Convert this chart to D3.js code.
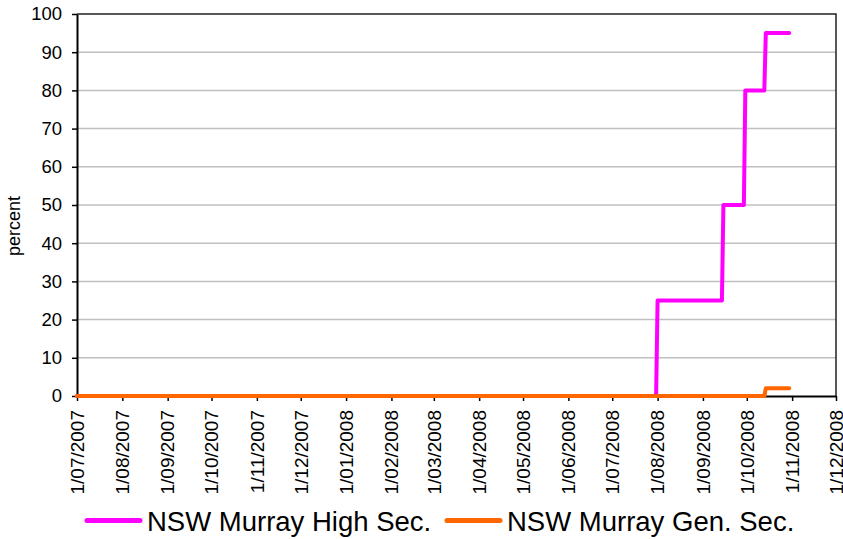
<!DOCTYPE html>
<html>
<head>
<meta charset="utf-8">
<script src="https://cdn.jsdelivr.net/npm/d3@7"></script>
<style>
  html, body { margin: 0; padding: 0; background: #fff; }
  svg { display: block; font-family: "Liberation Sans", Arial, sans-serif; }
</style>
</head>
<body>
<svg id="chart" width="843" height="539"></svg>
<script>
// ---- Data ----
const seriesNames = ["NSW Murray High Sec.", "NSW Murray Gen. Sec."];
const seriesColors = ["#FF00FF", "#FF6600"];
const highDates = ["2007-07-01","2008-07-31","2008-08-01","2008-09-14","2008-09-15","2008-09-29","2008-09-30","2008-10-13","2008-10-14","2008-10-30"];
const highValues = [0, 0, 25, 25, 50, 50, 80, 80, 95, 95];
const genDates = ["2007-07-01","2008-10-13","2008-10-14","2008-10-30"];
const genValues = [0, 0, 2, 2];
const xDomain = ["2007-07-01", "2008-12-01"];
const yTicks = [0,10,20,30,40,50,60,70,80,90,100];
const yLabel = "percent";

// ---- Layout ----
const svg = d3.select("#chart");
const pLeft = 77, pRight = 836, pTop = 14, pBottom = 396;
const parse = d3.utcParse("%Y-%m-%d");

const x = d3.scaleUtc().domain(xDomain.map(parse)).range([pLeft, pRight]);
const y = d3.scaleLinear().domain([0, 100]).range([pBottom, pTop]);

// gridlines
svg.append("g").selectAll("line").data(yTicks.filter(d => d > 0 && d < 100)).join("line")
  .attr("x1", pLeft).attr("x2", pRight)
  .attr("y1", d => y(d)).attr("y2", d => y(d))
  .attr("stroke", "#C0C0C0").attr("stroke-width", 1.5);

// plot border top/right
svg.append("path")
  .attr("d", `M${pLeft},${pTop}H${pRight}V${pBottom}`)
  .attr("fill", "none").attr("stroke", "#222").attr("stroke-width", 1.5);

// y axis
const yAxis = svg.append("g").attr("transform", `translate(${pLeft},0)`)
  .call(d3.axisLeft(y).tickValues(yTicks).tickSize(5).tickSizeOuter(0).tickPadding(10));
yAxis.select(".domain").attr("stroke", "#000").attr("stroke-width", 2);
yAxis.selectAll(".tick line").attr("stroke", "#000").attr("stroke-width", 1.5);
yAxis.selectAll(".tick text").attr("font-size", "18.5px").attr("fill", "#000")
  .attr("font-family", '"Liberation Sans", Arial, sans-serif');

// x axis
const xAxis = svg.append("g").attr("transform", `translate(0,${pBottom})`)
  .call(d3.axisBottom(x).ticks(d3.utcMonth.every(1)).tickFormat(d3.utcFormat("1/%m/%Y"))
    .tickSize(5).tickSizeOuter(0));
xAxis.select(".domain").attr("stroke", "#000").attr("stroke-width", 2);
xAxis.selectAll(".tick line").attr("stroke", "#000").attr("stroke-width", 1.5);
xAxis.selectAll(".tick text")
  .attr("font-size", "19px").attr("fill", "#000")
  .attr("font-family", '"Liberation Sans", Arial, sans-serif')
  .attr("text-anchor", "end")
  .attr("transform", "rotate(-90)")
  .attr("x", -14).attr("y", 0).attr("dy", "0.33em");

// y label
svg.append("text")
  .attr("transform", "translate(20,226) rotate(-90)")
  .attr("text-anchor", "middle")
  .attr("font-size", "18px")
  .attr("fill", "#000")
  .text(yLabel);

// lines
const line = d3.line().x(d => x(d[0])).y(d => y(d[1]));
const highData = highDates.map((d, i) => [parse(d), highValues[i]]);
const genData = genDates.map((d, i) => [parse(d), genValues[i]]);
[highData, genData].forEach((data, i) => {
  svg.append("path").datum(data)
    .attr("d", line)
    .attr("fill", "none")
    .attr("stroke", seriesColors[i])
    .attr("stroke-width", 4)
    .attr("stroke-linejoin", "round")
    .attr("stroke-linecap", "round");
});

// legend
const legendX = [87, 447];
const lg = svg.append("g");
seriesNames.forEach((name, i) => {
  lg.append("line")
    .attr("x1", legendX[i]).attr("x2", legendX[i] + 53)
    .attr("y1", 520.5).attr("y2", 520.5)
    .attr("stroke", seriesColors[i]).attr("stroke-width", 5)
    .attr("stroke-linecap", "round");
  lg.append("text")
    .attr("x", legendX[i] + 60).attr("y", 531)
    .attr("font-size", "27.5px").attr("fill", "#000")
    .text(name);
});
</script>
</body>
</html>
